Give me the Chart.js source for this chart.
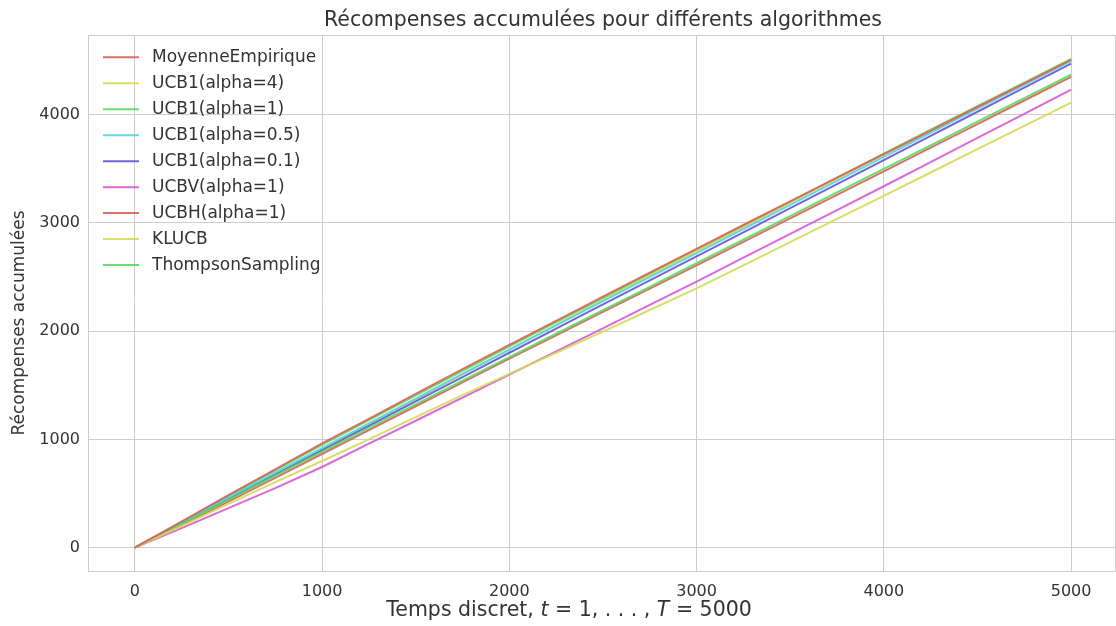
<!DOCTYPE html>
<html>
<head>
<meta charset="utf-8">
<title>Récompenses accumulées</title>
<script src="https://cdn.jsdelivr.net/npm/chart.js@4"></script>
<style>
  html, body { margin: 0; padding: 0; background: #fff; }
  #wrap { width: 1116px; height: 626px; }
</style>
</head>
<body>
<div id="wrap"><canvas id="lineChart" width="1116" height="626"></canvas></div>
<script>
// time steps (x axis)
const steps = [0, 250, 500, 750, 1000, 1250, 1500, 1750, 2000, 2250, 2500,
  2750, 3000, 3250, 3500, 3750, 4000, 4250, 4500, 4750, 5000];

// accumulated rewards
const moyenneEmpirique = [0, 240, 484, 724, 962, 1190, 1420, 1648, 1873, 2095, 2318, 2540, 2760, 2980, 3198, 3417, 3635, 3852, 4070, 4288, 4505];
const ucb1Alpha4 = [0, 200, 405, 605, 800, 1000, 1205, 1408, 1605, 1800, 1995, 2195, 2395, 2608, 2822, 3036, 3250, 3465, 3680, 3895, 4110];
const ucb1Alpha1 = [0, 220, 442, 664, 885, 1104, 1323, 1542, 1760, 1977, 2193, 2409, 2627, 2845, 3063, 3281, 3498, 3716, 3934, 4151, 4368];
const ucb1Alpha05 = [0, 232, 465, 694, 920, 1148, 1376, 1604, 1830, 2053, 2276, 2498, 2720, 2943, 3166, 3388, 3610, 3832, 4054, 4275, 4495];
const ucb1Alpha01 = [0, 222, 448, 675, 900, 1125, 1350, 1576, 1800, 2023, 2246, 2468, 2690, 2912, 3135, 3358, 3580, 3803, 4026, 4248, 4470];
const ucbvAlpha1 = [0, 180, 365, 550, 745, 960, 1172, 1385, 1598, 1812, 2026, 2243, 2458, 2678, 2898, 3118, 3338, 3561, 3784, 4007, 4230];
const ucbhAlpha1 = [0, 205, 425, 645, 865, 1086, 1306, 1526, 1745, 1961, 2177, 2393, 2608, 2825, 3042, 3259, 3476, 3694, 3912, 4130, 4348];
const klucb = [0, 226, 452, 680, 905, 1138, 1368, 1600, 1830, 2058, 2287, 2513, 2740, 2963, 3186, 3408, 3630, 3850, 4068, 4287, 4505];
const thompsonSampling = [0, 238, 478, 716, 950, 1178, 1406, 1632, 1858, 2082, 2305, 2528, 2750, 2972, 3194, 3416, 3640, 3860, 4078, 4296, 4515];

const labels = ['MoyenneEmpirique', 'UCB1(alpha=4)', 'UCB1(alpha=1)', 'UCB1(alpha=0.5)',
  'UCB1(alpha=0.1)', 'UCBV(alpha=1)', 'UCBH(alpha=1)', 'KLUCB', 'ThompsonSampling'];
const series = [moyenneEmpirique, ucb1Alpha4, ucb1Alpha1, ucb1Alpha05, ucb1Alpha01,
  ucbvAlpha1, ucbhAlpha1, klucb, thompsonSampling];

// seaborn "hls" palette, 6 colours, cycled
const palette = ['rgba(219,95,87,0.9)', 'rgba(211,219,87,0.9)', 'rgba(87,219,95,0.9)',
  'rgba(87,211,219,0.9)', 'rgba(95,87,219,0.9)', 'rgba(219,87,211,0.9)'];

const xTicks = [0, 1000, 2000, 3000, 4000, 5000];
const yTicks = [0, 1000, 2000, 3000, 4000];

const FONT = '"DejaVu Sans", sans-serif';
const TEXT = '#333333';
const GRID = '#cccccc';

const datasets = series.map((vals, i) => ({
  label: labels[i],
  data: vals.map((v, j) => ({ x: steps[j], y: v })),
  borderColor: palette[i % palette.length],
  backgroundColor: palette[i % palette.length],
  borderWidth: 2,
  pointRadius: 0,
  fill: false,
  tension: 0
}));

// titles, legend and the outer frame
const decorations = {
  id: 'decorations',
  afterDraw(chart) {
    const ctx = chart.ctx;
    const a = chart.chartArea;
    ctx.save();

    // frame
    ctx.strokeStyle = GRID;
    ctx.lineWidth = 1;
    ctx.strokeRect(a.left + 0.5, a.top + 0.5, a.right - a.left - 1, a.bottom - a.top - 1);

    // title
    ctx.fillStyle = TEXT;
    ctx.textAlign = 'center';
    ctx.textBaseline = 'middle';
    ctx.font = '20.5px ' + FONT;
    ctx.fillText('Récompenses accumulées pour différents algorithmes', 603, 21);

    // y label
    ctx.font = '17px ' + FONT;
    ctx.save();
    ctx.translate(20, 323);
    ctx.rotate(-Math.PI / 2);
    ctx.fillText('Récompenses accumulées', 0, 0);
    ctx.restore();

    // x label with italic math parts
    const size = '20.5px ';
    const parts = [
      ['Temps discret, ', false], ['t', true], [' = 1, . . . , ', false], ['T', true], [' = 5000', false]
    ];
    let total = 0;
    parts.forEach(p => {
      ctx.font = (p[1] ? 'italic ' : '') + size + FONT;
      total += ctx.measureText(p[0]).width;
    });
    let x = 569 - total / 2;
    ctx.textAlign = 'left';
    parts.forEach(p => {
      ctx.font = (p[1] ? 'italic ' : '') + size + FONT;
      ctx.fillText(p[0], x, 611);
      x += ctx.measureText(p[0]).width;
    });

    // legend
    ctx.font = '17px ' + FONT;
    chart.data.datasets.forEach((ds, i) => {
      const y = 57.3 + i * 25.97;
      ctx.strokeStyle = ds.borderColor;
      ctx.lineWidth = 2;
      ctx.beginPath();
      ctx.moveTo(103, y);
      ctx.lineTo(139, y);
      ctx.stroke();
      ctx.fillStyle = TEXT;
      ctx.fillText(ds.label, 152, y + 0.5);
    });

    ctx.restore();
  }
};

new Chart(document.getElementById('lineChart').getContext('2d'), {
  type: 'line',
  data: { datasets: datasets },
  options: {
    responsive: false,
    animation: false,
    layout: { padding: { top: 35, right: 0, left: 0, bottom: 0 } },
    plugins: {
      legend: { display: false },
      title: { display: false },
      tooltip: { enabled: false }
    },
    scales: {
      x: {
        type: 'linear',
        min: -250,
        max: 5240,
        afterBuildTicks: s => { s.ticks = xTicks.map(v => ({ value: v })); },
        afterFit: s => { s.height = 54; },
        grid: { color: GRID, lineWidth: 1, drawTicks: false },
        border: { display: false },
        ticks: { padding: 10, color: TEXT, font: { family: FONT, size: 16 }, maxRotation: 0,
          callback: v => String(v) }
      },
      y: {
        type: 'linear',
        min: -225,
        max: 4735,
        afterBuildTicks: s => { s.ticks = yTicks.map(v => ({ value: v })); },
        afterFit: s => { s.width = 88; },
        grid: { color: GRID, lineWidth: 1, drawTicks: false },
        border: { display: false },
        ticks: { padding: 8, color: TEXT, font: { family: FONT, size: 16 },
          callback: v => String(v) }
      }
    }
  },
  plugins: [decorations]
});
</script>
</body>
</html>
